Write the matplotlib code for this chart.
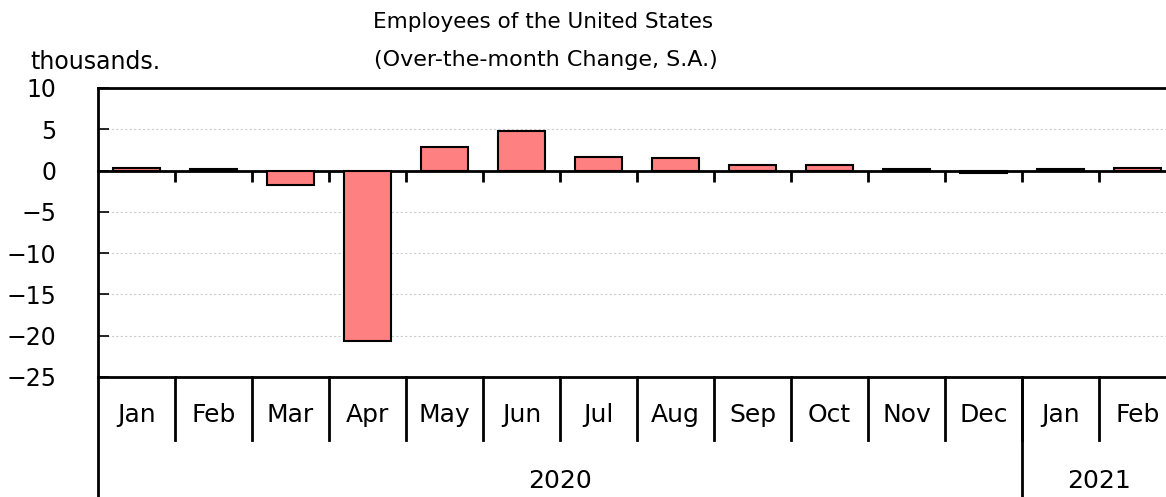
import matplotlib
matplotlib.use("Agg")
import matplotlib.pyplot as plt
import matplotlib.transforms as mtransforms

months = ["Jan", "Feb", "Mar", "Apr", "May", "Jun", "Jul", "Aug", "Sep", "Oct", "Nov", "Dec", "Jan", "Feb"]
values = [0.3, 0.25, -1.7, -20.7, 2.8, 4.8, 1.7, 1.5, 0.73, 0.7, 0.25, -0.35, 0.2, 0.35]
years = ["2020", "2021"]
year_counts = [12, 2]
yticks = [10, 5, 0, -5, -10, -15, -20, -25]

plt.rcParams['font.family'] = ['DejaVu Sans']
W, H = 1166, 497
fig = plt.figure(figsize=(W / 100, H / 100), dpi=100)
left_px, top_px, bot_px, right_px = 98, 88, 377, 1176
ax = fig.add_axes([left_px / W, 1 - bot_px / H, (right_px - left_px) / W, (bot_px - top_px) / H])

n = len(months)
xs = list(range(n))
ax.bar(xs, values, width=0.61, color="#FF8080", edgecolor="black", linewidth=1.5, zorder=3)

ax.set_xlim(-0.5, n - 0.5)
ax.set_ylim(-25, 10)
ax.set_yticks(yticks)
ax.set_yticklabels([str(v).replace("-", "\u2212") for v in yticks], fontsize=17)
ax.tick_params(axis='y', direction='in', length=8, width=1.2, pad=30)
ax.yaxis.grid(True, color="#cccccc", linestyle=(0, (2, 2)), linewidth=0.8)
ax.set_axisbelow(True)

# zero line with boundary ticks
ax.spines['bottom'].set_position(('data', 0))
ax.spines['bottom'].set_linewidth(2)
ax.set_xticks([i + 0.5 for i in range(n - 1)])
ax.set_xticklabels([])
ax.tick_params(axis='x', direction='out', length=8, width=2)
for s in ['left', 'top', 'right']:
    ax.spines[s].set_linewidth(2)

# bottom border
ax.plot([0, 1], [0, 0], transform=ax.transAxes, color="black", lw=2, clip_on=False, zorder=5)

trans = mtransforms.blended_transform_factory(ax.transData, ax.transAxes)
axh = bot_px - top_px
def yfrac(px):
    return (bot_px - px) / axh

# month labels and separators
for i, m in enumerate(months):
    ax.text(i, yfrac(415), m, transform=trans, ha="center", va="center", fontsize=18)
for i in range(n - 1):
    ax.plot([i + 0.5, i + 0.5], [0, yfrac(440)], transform=trans, color="black", lw=2, clip_on=False)
# left axis extension
ax.plot([-0.5, -0.5], [0, yfrac(H + 5)], transform=trans, color="black", lw=2, clip_on=False)

# year labels and separators
start = -0.5
for y, c in zip(years, year_counts):
    end = start + c
    ax.text((start + end) / 2, yfrac(481), y, transform=trans, ha="center", va="center", fontsize=18)
    if end < n - 0.5:
        ax.plot([end, end], [0, yfrac(H + 5)], transform=trans, color="black", lw=2, clip_on=False)
    start = end

fig.text(543 / W, 1 - 22 / H, "Employees of the United States", ha="center", va="center", fontsize=15.5)
fig.text(546 / W, 1 - 60 / H, "(Over-the-month Change, S.A.)", ha="center", va="center", fontsize=16)
fig.text(30 / W, 1 - 62 / H, "thousands.", ha="left", va="center", fontsize=17)

fig.savefig("out.png", dpi=100)
